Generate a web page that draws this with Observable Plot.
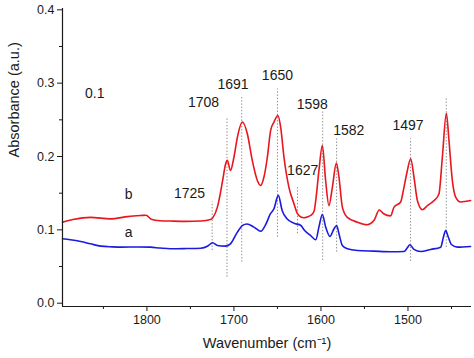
<!DOCTYPE html>
<html><head><meta charset="utf-8">
<script src="https://cdn.jsdelivr.net/npm/d3@7"></script>
<script src="https://cdn.jsdelivr.net/npm/@observablehq/plot@0.6"></script>
<style>
body{margin:0;background:#fff}
svg{font-family:Arial,"Liberation Sans",sans-serif}
</style>
</head><body><div id="chart"></div>
<script>
// Spectrum b (red)
const redWn  = [1897,1885,1865,1842,1822,1807,1801,1795,1785,1773,1755,1738,1727,1724,1719,1713,1709.5,1707.6,1704,1700,1696,1690.3,1684.6,1679,1673,1669.3,1665.5,1661.6,1657.8,1654,1649.4,1646.3,1642.5,1636.8,1631,1627,1623,1619.5,1615,1611.8,1608,1606,1602.3,1598.4,1594.6,1590.8,1586.9,1582.3,1579.3,1575.4,1569.7,1558,1547,1539,1533,1528,1520,1516,1508.4,1504.6,1500.7,1496.9,1493.1,1489.2,1483.4,1477.7,1470,1464.4,1460.5,1455.9,1452.9,1449,1445.2,1439.5,1433,1428];
const redAbs = [0.1105,0.114,0.117,0.115,0.118,0.1195,0.120,0.1145,0.1125,0.112,0.1115,0.112,0.114,0.117,0.131,0.167,0.190,0.1947,0.181,0.199,0.2265,0.247,0.231,0.195,0.167,0.1606,0.172,0.199,0.2356,0.247,0.256,0.240,0.199,0.158,0.1356,0.122,0.1175,0.1165,0.118,0.1196,0.125,0.140,0.181,0.215,0.167,0.133,0.158,0.191,0.172,0.131,0.117,0.1105,0.107,0.113,0.127,0.122,0.119,0.131,0.138,0.158,0.181,0.197,0.172,0.140,0.1274,0.133,0.140,0.149,0.199,0.259,0.222,0.167,0.1446,0.138,0.139,0.140];
// Spectrum a (blue)
const blueWn  = [1897,1888,1876,1865,1853,1840,1830,1810,1796,1785,1773,1755,1738,1730,1724.5,1719,1710,1704,1696,1690,1685,1677,1669,1664,1658,1654,1649,1644.6,1639,1631,1623,1619.5,1611.8,1606,1602.3,1598.4,1594.6,1589.7,1585,1582,1579.3,1575.4,1569.7,1558,1539,1520,1504.6,1500.7,1497.8,1493.1,1485.4,1473.9,1462.4,1459.3,1456.7,1453.6,1450.1,1443.2,1428];
const blueAbs = [0.0879,0.0865,0.084,0.081,0.0778,0.0768,0.0764,0.0767,0.0764,0.0752,0.0742,0.0745,0.075,0.078,0.0824,0.0787,0.0778,0.081,0.0969,0.106,0.108,0.1037,0.098,0.106,0.122,0.1288,0.147,0.1265,0.115,0.109,0.106,0.100,0.092,0.0865,0.104,0.121,0.104,0.091,0.1015,0.106,0.0947,0.0787,0.0742,0.0719,0.071,0.0701,0.0705,0.0755,0.0797,0.0733,0.0705,0.0733,0.0764,0.090,0.099,0.090,0.080,0.0764,0.0774];
// Peak marker lines
const peakWn     = [1725,1708,1691,1650,1627,1598,1582,1497,1456];
const peakTop    = [0.138,0.252,0.282,0.292,0.158,0.263,0.224,0.224,0.279];
const peakBottom = [0.0718,0.0355,0.0559,0.090,0.0947,0.0582,0.0696,0.057,0.076];
// Annotations
const labelText = ["0.1","b","a","1725","1708","1691","1650","1627","1598","1582","1497"];
const labelWn   = [1860,1821,1821,1751,1735,1701,1650,1621,1610,1568,1500];
const labelAbs  = [0.286,0.148,0.097,0.149,0.273,0.298,0.311,0.181,0.271,0.236,0.242];
// Ticks
const xMajorTicks = [1800,1700,1600,1500];
const xMinorTicks = [1850,1750,1650,1550,1450];
const yMajorTicks = [0,0.1,0.2,0.3,0.4];
const yMinorTicks = [0.05,0.15,0.25,0.35];
const xTitle = "Wavenumber (cm\u207B\u00B9)";
const yTitle = "Absorbance (a.u.)";
const xDomain = [1897,1427];
const yDomain = [-0.0045,0.4018];

const red = redWn.map((w,i)=>({w, a:redAbs[i]}));
const blue = blueWn.map((w,i)=>({w, a:blueAbs[i]}));
const peaks = peakWn.map((w,i)=>({w, top:peakTop[i], bottom:peakBottom[i]}));
const labels = labelText.map((t,i)=>({t, w:labelWn[i], a:labelAbs[i]}));

const font = 'Arial, "Liberation Sans", sans-serif';
const chart = Plot.plot({
  width:474, height:358,
  marginLeft:62, marginRight:3, marginTop:8, marginBottom:52,
  x:{domain:xDomain},
  y:{domain:yDomain},
  style:{fontFamily:font, fontSize:"12.5px", color:"#1a1a1a", background:"#fff"},
  marks:[
    Plot.ruleX(peaks,{x:"w", y1:"bottom", y2:"top", stroke:"#8c8c8c", strokeWidth:1, strokeDasharray:"1.4 1.8"}),
    Plot.line(red,{x:"w", y:"a", stroke:"#e8161e", strokeWidth:1.6, curve:"monotone-x"}),
    Plot.line(blue,{x:"w", y:"a", stroke:"#1a1ae0", strokeWidth:1.6, curve:"monotone-x"}),
    Plot.ruleX([xDomain[0]],{stroke:"#1a1a1a", strokeWidth:1.2}),
    Plot.ruleY([yDomain[0]],{stroke:"#1a1a1a", strokeWidth:1.2}),
    Plot.axisX({ticks:xMajorTicks, tickSize:5, tickPadding:4, tickFormat:d3.format("d"), label:null, fontSize:12.5}),
    Plot.axisX({ticks:xMinorTicks, tickSize:3, fill:"none", label:null}),
    Plot.axisY({ticks:yMajorTicks, tickSize:5, tickPadding:3, tickFormat:d3.format(".1f"), label:null, fontSize:12.5}),
    Plot.axisY({ticks:yMinorTicks, tickSize:3, fill:"none", label:null}),
    Plot.text(labels,{x:"w", y:"a", text:"t", fontSize:14, fill:"#1a1a1a"}),
    Plot.text([xTitle],{frameAnchor:"bottom", dy:41, fontSize:14.5, fill:"#1a1a1a"}),
    Plot.text([yTitle],{frameAnchor:"left", dx:-48, rotate:-90, fontSize:14.5, fill:"#1a1a1a"})
  ]
});
document.getElementById("chart").appendChild(chart);
</script>
</body></html>
